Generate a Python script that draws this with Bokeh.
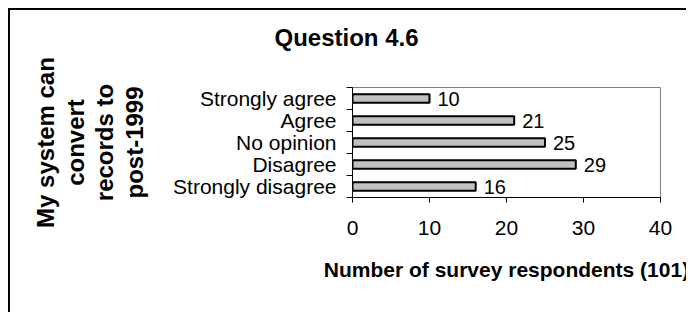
from bokeh.plotting import figure
from bokeh.models import ColumnDataSource, FixedTicker, LabelSet, Title
from bokeh.core.properties import value
from bokeh.embed import file_html
from bokeh.resources import INLINE

title_text = "Question 4.6"
categories = ["Strongly agree", "Agree", "No opinion", "Disagree", "Strongly disagree"]
counts = [10, 21, 25, 29, 16]
x_ticks = [0, 10, 20, 30, 40]

n = len(categories)
ypos = [n - i - 0.5 for i in range(n)]
src = ColumnDataSource(dict(y=ypos, v=counts, lab=[str(c) for c in counts]))

FONT = "Liberation Sans"

p = figure(width=678, height=304, output_backend="svg", toolbar_location=None,
           title=None, x_range=(0, 40), y_range=(0, n),
           min_border_left=342, min_border_right=28, min_border_top=77, min_border_bottom=117,
           styles={"border-left": "2px solid black", "border-top": "2px solid black",
                   "margin-left": "8px", "margin-top": "8px"})

p.hbar(y="y", right="v", left=0, height=0.38, source=src,
       fill_color="#c0c0c0", line_color="black", line_width=2)

labels = LabelSet(x="v", y="y", text="lab", source=src, x_offset=8,
                  text_baseline="middle", text_font=value(FONT), text_font_size=value("20px"),
                  text_color="black")
p.add_layout(labels)

# spacer between frame and title, then the title itself (outermost)
p.add_layout(Title(text=" ", text_font_size="1px", standoff=34), "above")
p.add_layout(Title(text=title_text, text_font=FONT, text_font_size="24px",
                   text_font_style="bold", text_color="black",
                   align="left", offset=-78, standoff=0), "above")

p.xgrid.visible = False
p.ygrid.visible = False
p.outline_line_color = "#808080"
p.outline_line_width = 1

# x axis
xa = p.xaxis[0]
xa.ticker = FixedTicker(ticks=x_ticks, minor_ticks=[])
xa.axis_line_color = "black"
xa.major_tick_out = 5
xa.major_tick_in = 0
xa.minor_tick_line_color = None
xa.major_label_standoff = 18
xa.major_label_text_font = FONT
xa.major_label_text_font_size = "21px"
xa.major_label_text_color = "black"
xa.axis_label = "Number of survey respondents (101)"
xa.axis_label_text_font = FONT
xa.axis_label_text_font_size = "21px"
xa.axis_label_text_font_style = "bold"
xa.axis_label_text_color = "black"
xa.axis_label_standoff = 20

# y axis
ya = p.yaxis[0]
ya.ticker = FixedTicker(ticks=ypos, minor_ticks=list(range(n + 1)))
ya.major_label_overrides = {y: c for y, c in zip(ypos, categories)}
ya.axis_line_color = "black"
ya.major_tick_line_color = None
ya.major_tick_out = 0
ya.major_tick_in = 0
ya.minor_tick_out = 6
ya.minor_tick_in = 0
ya.minor_tick_line_color = "black"
ya.major_label_standoff = 10
ya.major_label_text_font = FONT
ya.major_label_text_font_size = "21px"
ya.major_label_text_color = "black"
ya.axis_label = "My system can\nconvert\nrecords to\npost-1999"
ya.axis_label_text_font = FONT
ya.axis_label_text_font_size = "24px"
ya.axis_label_text_font_style = "bold"
ya.axis_label_text_color = "black"
ya.axis_label_text_line_height = 1.1
ya.axis_label_standoff = 22

open("out.html", "w").write(file_html(p, INLINE))
